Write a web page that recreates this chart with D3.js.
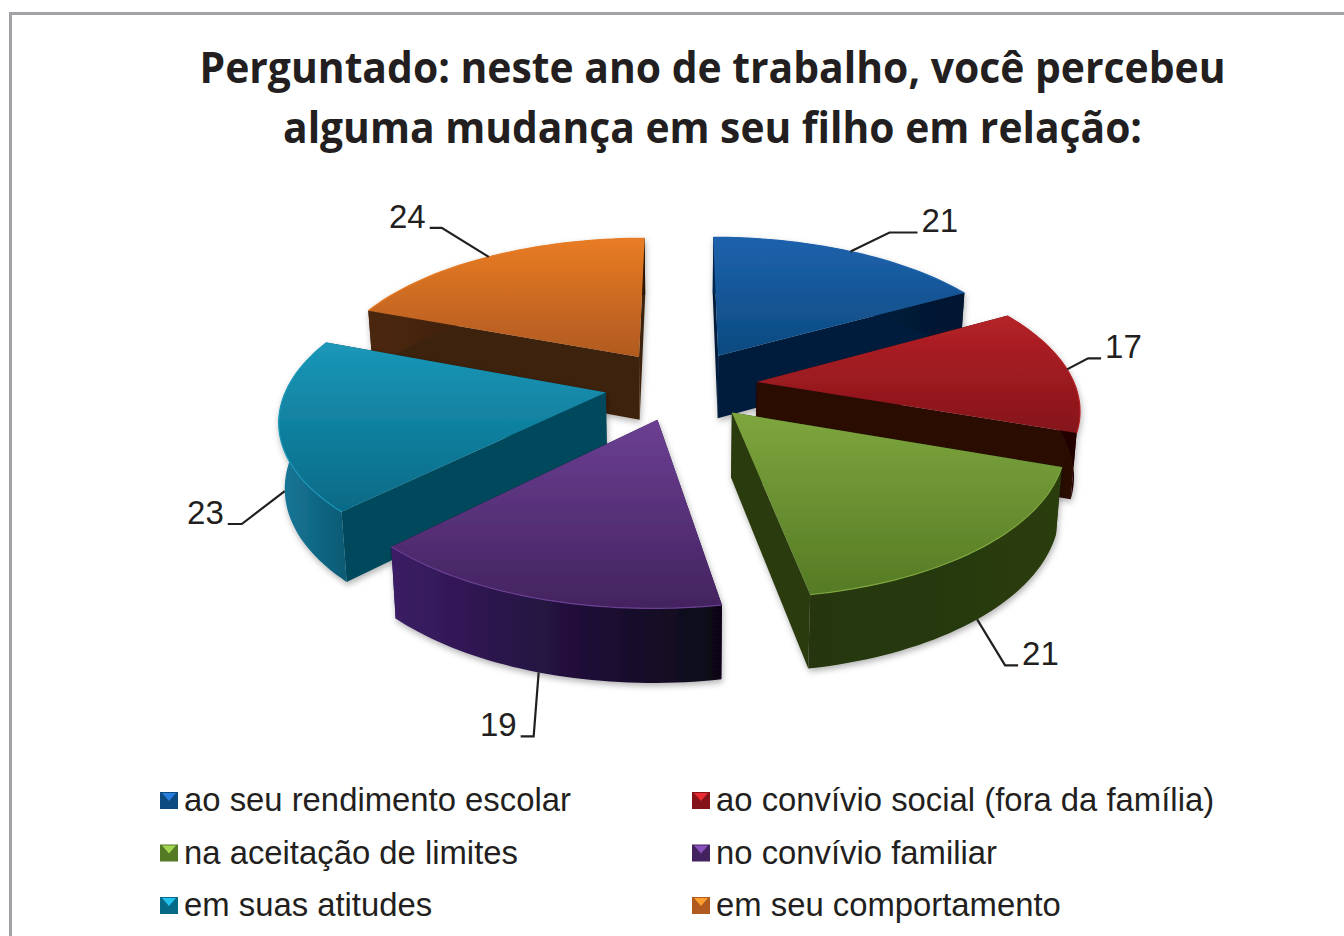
<!DOCTYPE html>
<html>
<head>
<meta charset="utf-8">
<script src="https://cdn.jsdelivr.net/npm/d3@7"></script>
<style>
  html, body { margin: 0; padding: 0; background: #fff; overflow: hidden; }
  svg { display: block; }
</style>
</head>
<body>
<svg id="chart" width="1344" height="936"></svg>
<script>
// dados
const titleLines = ["Perguntado: neste ano de trabalho, você percebeu", "alguma mudança em seu filho em relação:"];
const titleWidths = [1026, 859];
const categories = ["ao seu rendimento escolar", "ao convívio social (fora da família)", "na aceitação de limites", "no convívio familiar", "em suas atitudes", "em seu comportamento"];
const values = [21, 17, 21, 19, 23, 24];

// cores: topo claro, topo escuro, parede lateral, parede cortada
const topLight = ["#1e62ad", "#b52227", "#7ea63e", "#6b3f93", "#1b97b8", "#e97c25"];
const topDark = ["#0c4a80", "#85141a", "#557a25", "#43235f", "#066a86", "#b05a1f"];
const sideLight = ["#04284f", "#3a0a0a", "#25360f", "#3b1d66", "#17789a", "#4a280c"];
const sideDark = ["#02162f", "#1f0404", "#2a3c11", "#0b0616", "#0a5a74", "#2e1606"];
const cutColor = ["#031c3c", "#2b0706", "#2a3a10", "#1c0b36", "#03485c", "#3c2109"];

// desenho: ordem de tras para frente
const paintOrder = [5, 0, 1, 4, 3, 2];
const labelOnBottom = [0, 0, 1, 1, 1, 0];
const elbowDx = [39, 21, 28, -5, -43, -47];
const elbowDy = [-19, -11, 46, 64, 33, -29];
const tailDx = [28, 13, 13, -13, -14, -12];

// parametros da projecao (perspectiva simples)
const cx = 681, cy = 385, scaleX = 318, scaleY = 146, persp = 0.16, depth = 64, explode = 0.24;

const project = (u, v, h) => {
    const s = 1 / (1 - persp * v);
    return [cx + scaleX * u * s * (1 - 0.015 * h), cy + scaleY * v * s + depth * h * Math.pow(s, 0.7)];
};

const svg = d3.select("#chart");
const defs = svg.append("defs");

const shadow = defs.append("filter").attr("id", "soft")
    .attr("x", "-10%").attr("y", "-10%").attr("width", "120%").attr("height", "125%");
shadow.append("feDropShadow").attr("dx", 1).attr("dy", 3).attr("stdDeviation", 3)
    .attr("flood-color", "#000").attr("flood-opacity", 0.3);

values.forEach((d, i) => {
    const g = defs.append("linearGradient").attr("id", "top" + i).attr("x1", 0).attr("y1", 0).attr("x2", 0).attr("y2", 1);
    g.append("stop").attr("offset", "0%").attr("stop-color", topLight[i]);
    g.append("stop").attr("offset", "100%").attr("stop-color", topDark[i]);
    const w = defs.append("linearGradient").attr("id", "side" + i).attr("x1", 0).attr("y1", 0).attr("x2", 1).attr("y2", 0);
    w.append("stop").attr("offset", "0%").attr("stop-color", sideLight[i]);
    w.append("stop").attr("offset", "100%").attr("stop-color", sideDark[i]);
});

// moldura
svg.append("path")
    .attr("d", d3.line()([[10.5, 936], [10.5, 13.5], [1344, 13.5]]))
    .attr("fill", "none").attr("stroke", "#a0a2a5").attr("stroke-width", 3);

// titulo
svg.append("g").selectAll("text")
    .data(titleLines)
    .join("text")
    .attr("x", 712.5)
    .attr("y", (d, i) => 83 + i * 60)
    .attr("text-anchor", "middle")
    .attr("font-family", "'Open Sans', sans-serif")
    .attr("font-weight", 700)
    .attr("font-size", 43)
    .attr("textLength", (d, i) => titleWidths[i])
    .attr("lengthAdjust", "spacingAndGlyphs")
    .attr("fill", "#231f20")
    .text(d => d);

// fatias
const pie = d3.pie().sort(null)(values);
const line = d3.line();

const sliceGeom = a => {
    const mid = (a.startAngle + a.endAngle) / 2;
    const du = explode * Math.sin(mid), dv = -explode * Math.cos(mid);
    const rim = t => [du + Math.sin(t), dv - Math.cos(t)];
    const ts = d3.range(0, 41).map(k => a.startAngle + (a.endAngle - a.startAngle) * k / 40);
    return {du, dv, rim, ts, mid};
};

const pieGroup = svg.append("g");
paintOrder.forEach(i => {
    const {du, dv, rim, ts} = sliceGeom(pie[i]);
    const g = pieGroup.append("g").attr("filter", "url(#soft)");
    const apexTop = project(du, dv, 0), apexBot = project(du, dv, 1);
    const cutWall = t => {
        const [u, v] = rim(t);
        return line([apexTop, project(u, v, 0), project(u, v, 1), apexBot]) + "Z";
    };
    g.append("path").attr("d", cutWall(pie[i].startAngle)).attr("fill", cutColor[i]);
    g.append("path").attr("d", cutWall(pie[i].endAngle)).attr("fill", cutColor[i]);
    const outer = ts.map(t => project(...rim(t), 0)).concat(ts.slice().reverse().map(t => project(...rim(t), 1)));
    g.append("path").attr("d", line(outer) + "Z").attr("fill", `url(#side${i})`);
    const top = [apexTop].concat(ts.map(t => project(...rim(t), 0)));
    g.append("path").attr("d", line(top) + "Z").attr("fill", `url(#top${i})`);
    // brilho fino na borda
    g.append("path").attr("d", line(ts.map(t => project(...rim(t), 0))))
        .attr("fill", "none").attr("stroke", topLight[i]).attr("stroke-width", 1.2);
});

// rotulos com linha de chamada
const labels = svg.append("g");
values.forEach((d, i) => {
    const {rim, mid} = sliceGeom(pie[i]);
    const start = project(...rim(mid), labelOnBottom[i]);
    const elbow = [start[0] + elbowDx[i], start[1] + elbowDy[i]];
    const end = [elbow[0] + tailDx[i], elbow[1]];
    labels.append("path").attr("d", line([start, elbow, end]))
        .attr("fill", "none").attr("stroke", "#231f20").attr("stroke-width", 2.2);
    labels.append("text")
        .attr("x", end[0] + (tailDx[i] > 0 ? 4 : -4))
        .attr("y", end[1])
        .attr("text-anchor", tailDx[i] > 0 ? "start" : "end")
        .attr("font-family", "'Liberation Sans', Arial, sans-serif")
        .attr("font-size", 33)
        .attr("fill", "#231f20")
        .text(d);
});

// legenda
const legendCol = d3.scalePoint().domain([0, 1]).range([160, 692]);
const legendRow = d3.scalePoint().domain([0, 1, 2]).range([800, 905]);
const legend = svg.append("g").selectAll("g")
    .data(categories)
    .join("g")
    .attr("transform", (d, i) => `translate(${legendCol(i % 2)},${legendRow(Math.floor(i / 2))})`);
legend.append("rect")
    .attr("x", 0).attr("y", -8).attr("width", 18).attr("height", 17)
    .attr("fill", (d, i) => topDark[i]);
legend.append("path")
    .attr("d", line([[2, -7], [16, -7], [9, 1]]) + "Z")
    .attr("fill", (d, i) => d3.color(topLight[i]).brighter(0.7));
legend.append("text")
    .attr("x", 24).attr("y", 11)
    .attr("font-family", "'Liberation Sans', Arial, sans-serif")
    .attr("font-size", 32.85)
    .attr("fill", "#231f20")
    .text(d => d);
</script>
</body>
</html>
